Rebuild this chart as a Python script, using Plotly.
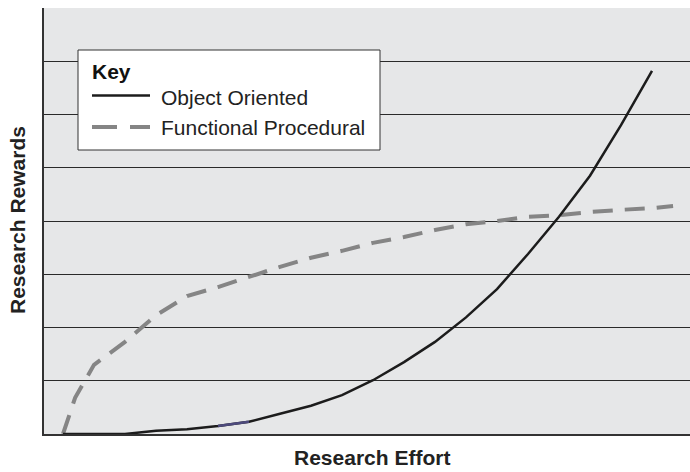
import plotly.graph_objects as go

# ---- data ----
effort_oo = [0, 1, 2, 3, 4, 5, 6, 7, 8, 9, 10, 11, 12, 13, 14, 15, 16, 17, 18, 19]
rewards_oo = [0, 0, 0, 0.06, 0.09, 0.15, 0.23, 0.38, 0.53, 0.73, 1.01, 1.35, 1.73,
              2.19, 2.72, 3.38, 4.08, 4.85, 5.80, 6.82]

effort_fp = [0, 0.39, 1, 2, 3, 4, 5, 6, 7, 8, 9, 10, 11, 12, 13, 14, 15, 16, 17, 18, 19, 19.68]
rewards_fp = [0, 0.68, 1.30, 1.73, 2.23, 2.59, 2.76, 2.95, 3.14, 3.31, 3.44, 3.59, 3.70,
              3.83, 3.94, 4.00, 4.08, 4.11, 4.17, 4.21, 4.24, 4.28]

series_names = ["Object Oriented", "Functional Procedural"]
legend_title = "Key"
x_title = "Research Effort"
y_title = "Research Rewards"

# ---- layout geometry helpers (pixel -> paper) ----
W, H = 690, 472
L, R, T, B = 44, 0, 8, 38
PW, PH = W - L - R, H - T - B


def px(x):
    return (x - L) / PW


def py(y):
    return (H - B - y) / PH


FONT = "Liberation Sans, Arial, Helvetica, sans-serif"
SOLID = "#1c1c1c"
DASH = "#858585"

fig = go.Figure()

fig.add_trace(go.Scatter(
    x=effort_fp, y=rewards_fp, mode="lines", name=series_names[1],
    line=dict(color=DASH, width=4, dash="20px,12px"), showlegend=False,
))
fig.add_trace(go.Scatter(
    x=effort_oo, y=rewards_oo, mode="lines", name=series_names[0],
    line=dict(color=SOLID, width=2.5), showlegend=False,
))
# small bluish segment visible in the original line
fig.add_trace(go.Scatter(
    x=effort_oo[5:7], y=rewards_oo[5:7], mode="lines", name=series_names[0],
    line=dict(color="#4d4a7c", width=2.5), showlegend=False, hoverinfo="skip",
))

shapes = [
    # legend box
    dict(type="rect", xref="paper", yref="paper", x0=px(78), x1=px(380), y0=py(150), y1=py(50),
         fillcolor="white", line=dict(color="#333333", width=1), layer="above"),
    # legend samples
    dict(type="line", xref="paper", yref="paper", x0=px(92), x1=px(150), y0=py(95.5), y1=py(95.5),
         line=dict(color=SOLID, width=2.6), layer="above"),
    dict(type="line", xref="paper", yref="paper", x0=px(92), x1=px(150), y0=py(127), y1=py(127),
         line=dict(color=DASH, width=4, dash="25px,13px"), layer="above"),
]

annotations = [
    dict(text="<b>" + legend_title + "</b>", xref="paper", yref="paper", x=px(90), y=py(71),
         xanchor="left", yanchor="middle", showarrow=False, font=dict(family=FONT, size=21, color="#111")),
    dict(text=series_names[0], xref="paper", yref="paper", x=px(159), y=py(97),
         xanchor="left", yanchor="middle", showarrow=False, font=dict(family=FONT, size=21, color="#222")),
    dict(text=series_names[1], xref="paper", yref="paper", x=px(159), y=py(128),
         xanchor="left", yanchor="middle", showarrow=False, font=dict(family=FONT, size=21, color="#222")),
    dict(text="<b>" + x_title + "</b>", xref="paper", yref="paper", x=px(372), y=py(458),
         xanchor="center", yanchor="middle", showarrow=False, borderpad=0,
         font=dict(family=FONT, size=21, color="#222")),
    dict(text="<b>" + y_title + "</b>", xref="paper", yref="paper", x=px(18), y=py(220),
         xanchor="center", yanchor="middle", textangle=-90, showarrow=False,
         font=dict(family=FONT, size=21, color="#222")),
]

fig.update_layout(
    width=W, height=H,
    margin=dict(l=L, r=R, t=T, b=B, pad=0),
    paper_bgcolor="white",
    plot_bgcolor="#e6e7e8",
    showlegend=False,
    shapes=shapes,
    annotations=annotations,
    xaxis=dict(range=[(L - 63) / 31, (W - R - 63) / 31], showgrid=False, zeroline=False,
               showticklabels=False, ticks="", showline=True, linecolor="#333333", linewidth=2,
               fixedrange=True),
    yaxis=dict(range=[0, 8], dtick=1, tick0=0, showgrid=True, gridcolor="#2a2a2a", gridwidth=1,
               zeroline=False, showticklabels=False, ticks="", showline=True,
               linecolor="#333333", linewidth=1.5, fixedrange=True),
)

fig.write_html(
    "out.html",
    config={"displayModeBar": False},
    post_script="document.body.style.margin='0';document.body.style.overflow='hidden';",
)
